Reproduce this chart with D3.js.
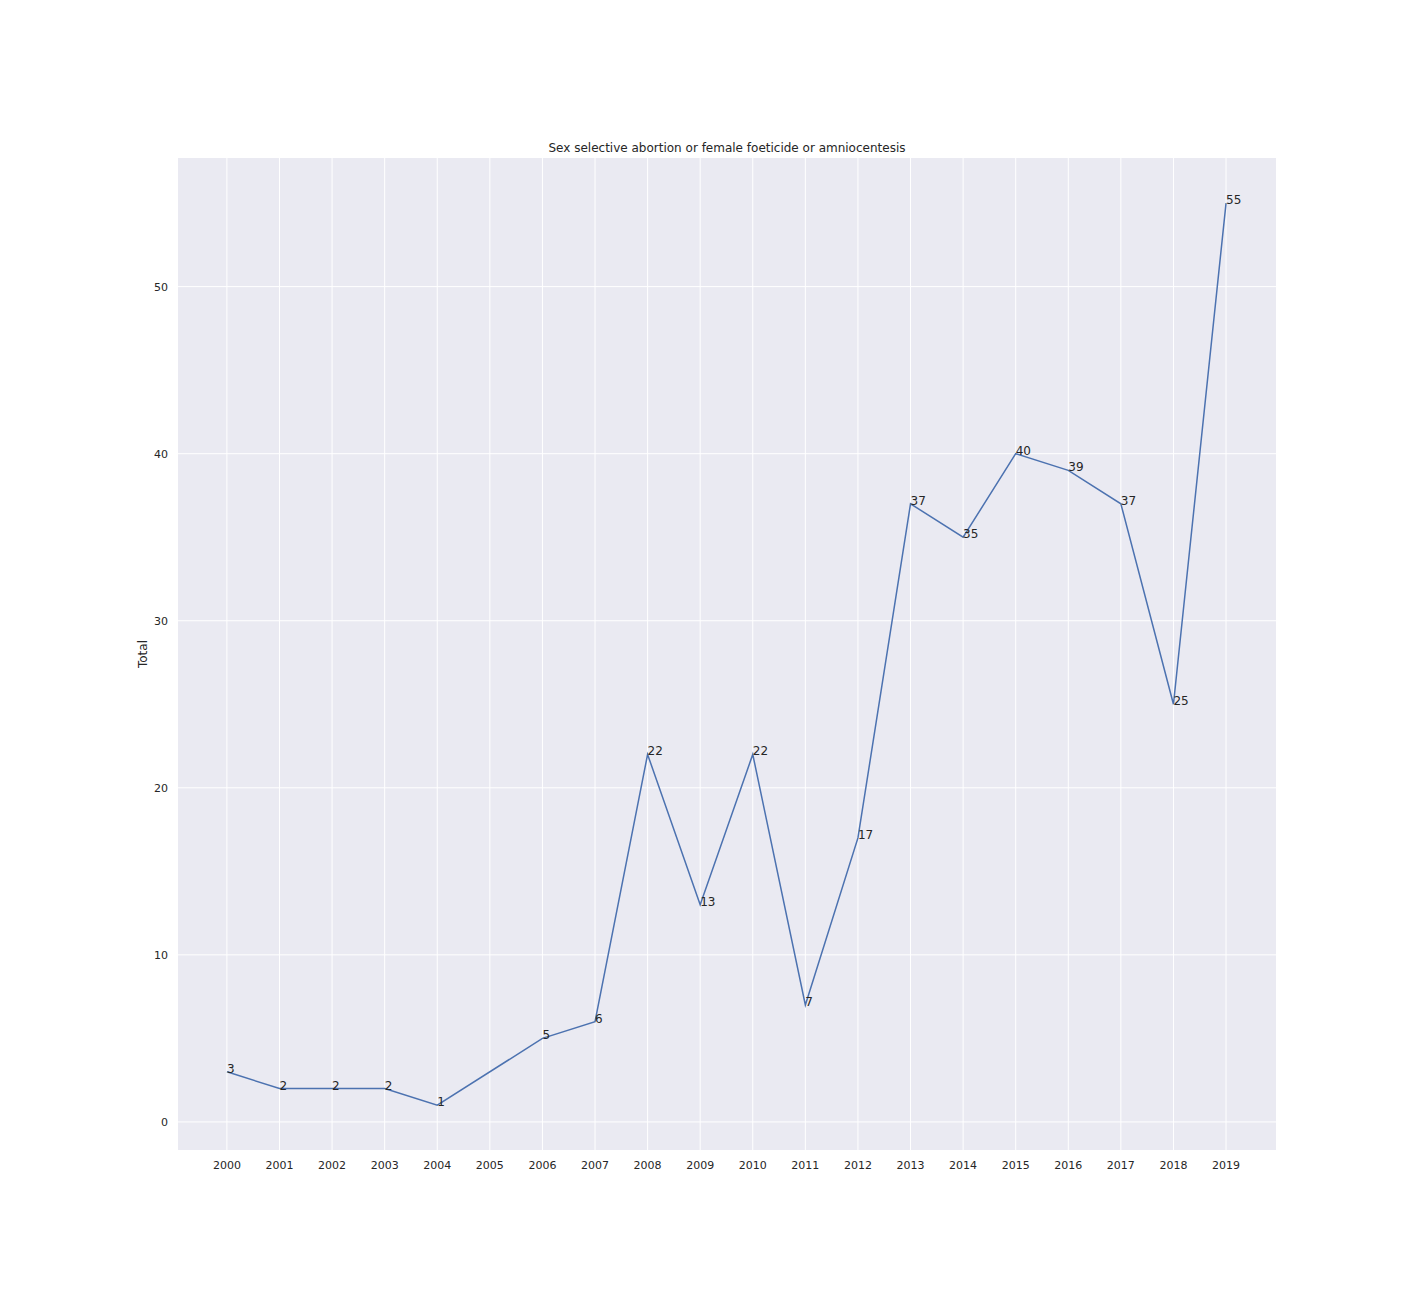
<!DOCTYPE html>
<html>
<head>
<meta charset="utf-8">
<script src="https://cdn.jsdelivr.net/npm/d3@7"></script>
<style>
body { margin: 0; background: #fff; font-family: "DejaVu Sans", sans-serif; }
</style>
</head>
<body>
<div class="graphic"></div>
<script>
const years = [2000, 2001, 2002, 2003, 2004, 2006, 2007, 2008, 2009, 2010, 2011, 2012, 2013, 2014, 2015, 2016, 2017, 2018, 2019];
const totals = [3, 2, 2, 2, 1, 5, 6, 22, 13, 22, 7, 17, 37, 35, 40, 39, 37, 25, 55];
const xTicks = d3.range(2000, 2020);
const yTicks = [0, 10, 20, 30, 40, 50];

let svg = d3.select(".graphic")
            .append("svg")
            .attr("width", 1418)
            .attr("height", 1315);

let plotLeft = 178, plotRight = 1276, plotTop = 158, plotBottom = 1150;

let x = d3.scaleLinear().domain([1999.07, 2019.95]).range([plotLeft, plotRight]);
let y = d3.scaleLinear().domain([-1.68, 57.7]).range([plotBottom, plotTop]);

svg.append("rect")
    .attr("x", plotLeft).attr("y", plotTop)
    .attr("width", plotRight - plotLeft).attr("height", plotBottom - plotTop)
    .attr("fill", "#eaeaf2");

svg.selectAll(".vgrid").data(xTicks).enter().append("line")
    .attr("x1", d => x(d)).attr("x2", d => x(d))
    .attr("y1", plotTop).attr("y2", plotBottom)
    .attr("stroke", "#fff").attr("stroke-width", 1);

svg.selectAll(".hgrid").data(yTicks).enter().append("line")
    .attr("x1", plotLeft).attr("x2", plotRight)
    .attr("y1", d => y(d)).attr("y2", d => y(d))
    .attr("stroke", "#fff").attr("stroke-width", 1);

svg.selectAll(".xt").data(xTicks).enter().append("text")
    .attr("x", d => x(d)).attr("y", plotBottom + 19)
    .attr("text-anchor", "middle")
    .attr("font-size", 11).attr("fill", "#262626")
    .text(d => d);

svg.selectAll(".yt").data(yTicks).enter().append("text")
    .attr("x", plotLeft - 10).attr("y", d => y(d) + 4)
    .attr("text-anchor", "end")
    .attr("font-size", 11).attr("fill", "#262626")
    .text(d => d);

svg.append("text")
    .attr("transform", `translate(147,${(plotTop + plotBottom) / 2}) rotate(-90)`)
    .attr("text-anchor", "middle")
    .attr("font-size", 12).attr("fill", "#262626")
    .text("Total");

svg.append("text")
    .attr("x", (plotLeft + plotRight) / 2).attr("y", plotTop - 6)
    .attr("text-anchor", "middle")
    .attr("font-size", 12).attr("fill", "#262626")
    .text("Sex selective abortion or female foeticide or amniocentesis");

let pts = years.map((d, i) => [d, totals[i]]);

svg.append("path")
    .datum(pts)
    .attr("d", d3.line().x(d => x(d[0])).y(d => y(d[1])))
    .attr("fill", "none")
    .attr("stroke", "#4c72b0")
    .attr("stroke-width", 1.5);

svg.selectAll(".lbl").data(pts).enter().append("text")
    .attr("x", d => x(d[0])).attr("y", d => y(d[1]) + 1)
    .attr("font-size", 12).attr("fill", "#262626")
    .text(d => d[1]);
</script>
</body>
</html>
